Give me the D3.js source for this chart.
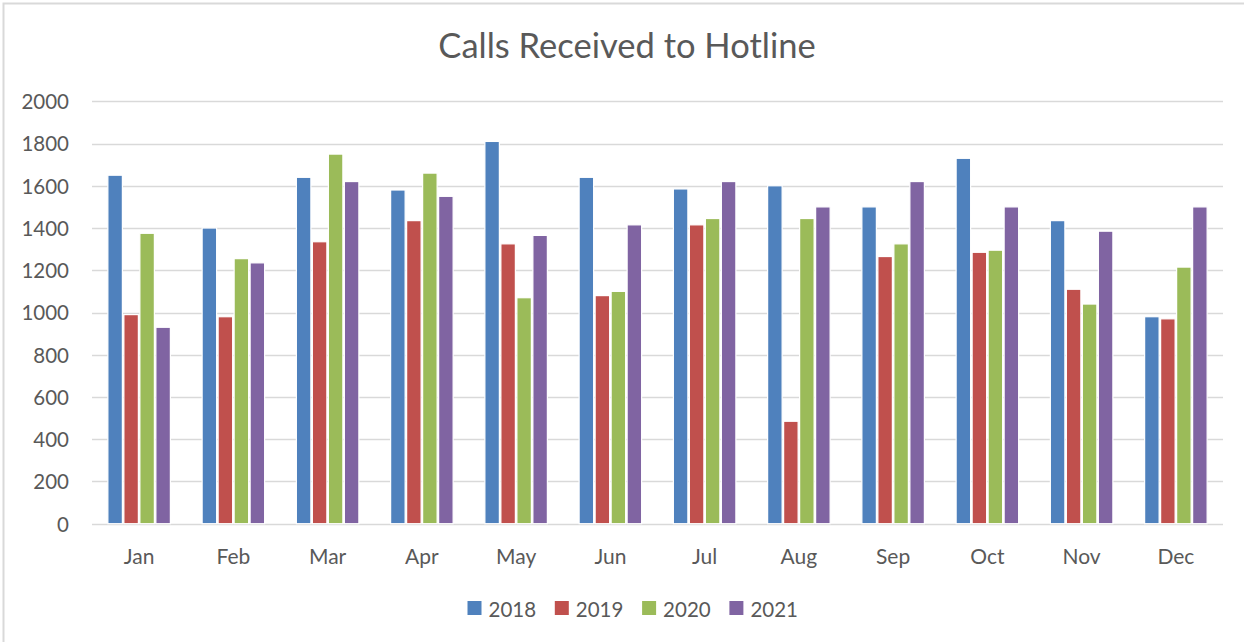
<!DOCTYPE html>
<html>
<head>
<meta charset="utf-8">
<script src="https://cdn.jsdelivr.net/npm/d3@7"></script>
<style>
  html, body { margin: 0; padding: 0; background: #fff; }
  svg { display: block; }
  text { font-family: Lato, "Open Sans", sans-serif; fill: #595959; }
</style>
</head>
<body>
<svg id="chart" width="1244" height="642"></svg>
<script>
const months = ["Jan","Feb","Mar","Apr","May","Jun","Jul","Aug","Sep","Oct","Nov","Dec"];
const seriesNames = ["2018","2019","2020","2021"];
const values2018 = [1650,1400,1640,1580,1810,1640,1585,1600,1500,1730,1435,980];
const values2019 = [990,980,1335,1435,1325,1080,1415,485,1265,1285,1110,970];
const values2020 = [1375,1255,1750,1660,1070,1100,1445,1445,1325,1295,1040,1215];
const values2021 = [930,1235,1620,1550,1365,1415,1620,1500,1620,1500,1385,1500];
const yTicks = [0,200,400,600,800,1000,1200,1400,1600,1800,2000];
const colors = ["#4F81BD","#C0504D","#9BBB59","#8064A2"];
const title = "Calls Received to Hotline";

const allValues = [values2018, values2019, values2020, values2021];

const svg = d3.select("#chart");
const W = 1244, H = 642;

// outer chart border
svg.append("rect")
  .attr("x", 3.5).attr("y", 3.5)
  .attr("width", W + 10).attr("height", H + 10)
  .attr("fill", "none").attr("stroke", "#d9d9d9").attr("stroke-width", 2);

const plot = { left: 92, right: 1223, top: 101.3, bottom: 523.7 };

const x = d3.scaleBand().domain(months).range([plot.left, plot.right]).paddingInner(0).paddingOuter(0);
const groupWidth = 64;
const xs = d3.scaleBand().domain(seriesNames).range([0, groupWidth]).padding(0);
const y = d3.scaleLinear().domain([0, 2000]).range([plot.bottom, plot.top]);

// gridlines
svg.append("g").selectAll("line").data(yTicks).join("line")
  .attr("x1", plot.left).attr("x2", plot.right)
  .attr("y1", d => Math.round(y(d)) + 0.5).attr("y2", d => Math.round(y(d)) + 0.5)
  .attr("stroke", "#d9d9d9").attr("stroke-width", 1.5);

// y axis labels
const yAxis = d3.axisLeft(y).tickValues(yTicks).tickFormat(d3.format("d")).tickSize(0).tickPadding(0);
const gy = svg.append("g").attr("transform", `translate(69,0)`).call(yAxis);
gy.select(".domain").remove();
gy.selectAll("text").attr("font-size", 20.5).attr("font-family", "Lato, sans-serif").attr("fill", "#595959").attr("dy", "0.36em");

// bars
const groups = svg.append("g").selectAll("g").data(months).join("g")
  .attr("transform", m => `translate(${x(m) + (x.bandwidth() - groupWidth) / 2},0)`);
groups.selectAll("rect")
  .data((m, i) => seriesNames.map((s, k) => ({ s, k, v: allValues[k][i] })))
  .join("rect")
  .attr("x", d => xs(d.s) + 0.75)
  .attr("width", xs.bandwidth() - 1.5)
  .attr("y", d => y(d.v))
  .attr("height", d => plot.bottom - y(d.v))
  .attr("fill", d => colors[d.k])
  .attr("stroke", "#fff").attr("stroke-width", 1.2);

// x axis labels
const xAxis = d3.axisBottom(x).tickSize(0).tickPadding(0);
const gx = svg.append("g").attr("transform", `translate(0,564)`).call(xAxis);
gx.select(".domain").remove();
gx.selectAll("text").attr("font-size", 21).attr("font-family", "Lato, sans-serif").attr("fill", "#595959").attr("dy", 0);

// title
svg.append("text").attr("x", 627).attr("y", 58)
  .attr("text-anchor", "middle").attr("font-size", 34.5).text(title);

// legend
const legend = svg.append("g").selectAll("g").data(seriesNames).join("g")
  .attr("transform", (d, i) => `translate(${467.5 + i * 87.3},0)`);
legend.append("rect").attr("x", 0).attr("y", 601).attr("width", 14).attr("height", 14)
  .attr("fill", (d, i) => colors[i]);
legend.append("text").attr("x", 21).attr("y", 617).attr("font-size", 20.5).text(d => d);
</script>
</body>
</html>
